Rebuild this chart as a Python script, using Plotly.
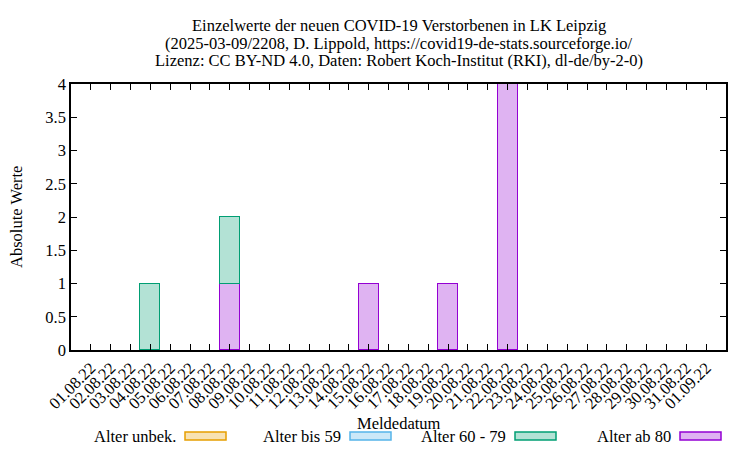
import plotly.graph_objects as go

dates = ["01.08.22", "02.08.22", "03.08.22", "04.08.22", "05.08.22", "06.08.22", "07.08.22",
         "08.08.22", "09.08.22", "10.08.22", "11.08.22", "12.08.22", "13.08.22", "14.08.22",
         "15.08.22", "16.08.22", "17.08.22", "18.08.22", "19.08.22", "20.08.22", "21.08.22",
         "22.08.22", "23.08.22", "24.08.22", "25.08.22", "26.08.22", "27.08.22", "28.08.22",
         "29.08.22", "30.08.22", "31.08.22", "01.09.22"]

alter_unbek = [0] * 32
alter_bis_59 = [0] * 32
alter_60_79 = [0, 0, 0, 1, 0, 0, 0, 1, 0, 0, 0, 0, 0, 0, 0, 0,
               0, 0, 0, 0, 0, 0, 0, 0, 0, 0, 0, 0, 0, 0, 0, 0]
alter_ab_80 = [0, 0, 0, 0, 0, 0, 0, 1, 0, 0, 0, 0, 0, 0, 1, 0,
               0, 0, 1, 0, 0, 4, 0, 0, 0, 0, 0, 0, 0, 0, 0, 0]

y_ticks = [0, 0.5, 1, 1.5, 2, 2.5, 3, 3.5, 4]
y_labels = ["0", "0.5", "1", "1.5", "2", "2.5", "3", "3.5", "4"]

title_lines = [
    "Einzelwerte der neuen COVID-19 Verstorbenen in LK Leipzig",
    "(2025-03-09/2208, D. Lippold, https://covid19-de-stats.sourceforge.io/",
    "Lizenz: CC BY-ND 4.0, Daten: Robert Koch-Institut (RKI), dl-de/by-2-0)",
]

series = [
    ("Alter ab 80", alter_ab_80, "#dfb3f2", "#9400d3"),
    ("Alter 60 - 79", alter_60_79, "#b3e2d5", "#009e73"),
    ("Alter bis 59", alter_bis_59, "#cce8f8", "#56b4e9"),
    ("Alter unbek.", alter_unbek, "#f8e2b3", "#e69f00"),
]

FONT = "Liberation Serif, Times New Roman, serif"
FS = 16.5

fig = go.Figure()
for name, vals, fill, line in series:
    fig.add_trace(go.Bar(
        x=dates, y=[v if v else None for v in vals], name=name,
        marker=dict(color=fill, line=dict(color=line, width=1.5)),
        showlegend=False,
    ))

W, H = 750, 450
L, R, T, B = 71, 24, 84, 100
pw, ph = W - L - R, H - T - B

def px_x(px):
    return (px - L) / pw

def px_y(py):
    return (H - B - py) / ph

shapes = []
annotations = []

# title lines
for line_text, yc in zip(title_lines, [25, 43, 60]):
    annotations.append(dict(text=line_text, xref="paper", yref="paper",
                            x=px_x(398.5), y=px_y(yc), xanchor="center", yanchor="middle",
                            showarrow=False, font=dict(family=FONT, size=FS, color="black")))

# custom legend (text then sample box, as in the reference)
legend_items = [
    ("Alter unbek.", 185, "#f8e2b3", "#e69f00"),
    ("Alter bis 59", 350, "#cce8f8", "#56b4e9"),
    ("Alter 60 - 79", 515, "#b3e2d5", "#009e73"),
    ("Alter ab 80", 680, "#dfb3f2", "#9400d3"),
]
for name, bx, fill, line in legend_items:
    shapes.append(dict(type="rect", xref="paper", yref="paper",
                       x0=px_x(bx), x1=px_x(bx + 41), y0=px_y(440), y1=px_y(432),
                       fillcolor=fill, line=dict(color=line, width=1.5)))
    annotations.append(dict(text=name, xref="paper", yref="paper",
                            x=px_x(bx - 7), y=px_y(436.5), xanchor="right", yanchor="middle",
                            showarrow=False, font=dict(family=FONT, size=FS, color="black")))

annotations.append(dict(text="Meldedatum", xref="paper", yref="paper",
                        x=px_x(398.5), y=px_y(423), xanchor="center", yanchor="middle",
                        showarrow=False, font=dict(family=FONT, size=FS, color="black")))
annotations.append(dict(text="Absolute Werte", xref="paper", yref="paper",
                        x=px_x(16), y=px_y(217), xanchor="center", yanchor="middle",
                        textangle=-90,
                        showarrow=False, font=dict(family=FONT, size=FS, color="black")))

fig.update_layout(
    width=W, height=H,
    margin=dict(l=L, r=R, t=T, b=B, autoexpand=False),
    paper_bgcolor="white", plot_bgcolor="white",
    barmode="stack", bargap=0,
    font=dict(family=FONT, size=FS, color="black"),
    xaxis=dict(
        type="category", range=[-1, 32], tickangle=-45, automargin=False,
        tickmode="array", tickvals=dates, ticktext=dates,
        showline=True, linecolor="black", linewidth=1.5, mirror="ticks",
        ticks="inside", ticklen=6, tickwidth=1, tickcolor="black",
        showgrid=False, zeroline=False,
        tickfont=dict(family=FONT, size=FS),
    ),
    yaxis=dict(
        range=[0, 4], tickvals=y_ticks, ticktext=y_labels, automargin=False,
        showline=True, linecolor="black", linewidth=1.5, mirror="ticks",
        ticks="inside", ticklen=6, tickwidth=1, tickcolor="black",
        showgrid=False, zeroline=False,
        tickfont=dict(family=FONT, size=FS),
    ),
    shapes=shapes,
    annotations=annotations,
)

fig.write_html("out.html", config={"displayModeBar": False},
               post_script="document.body.style.margin='0';")
